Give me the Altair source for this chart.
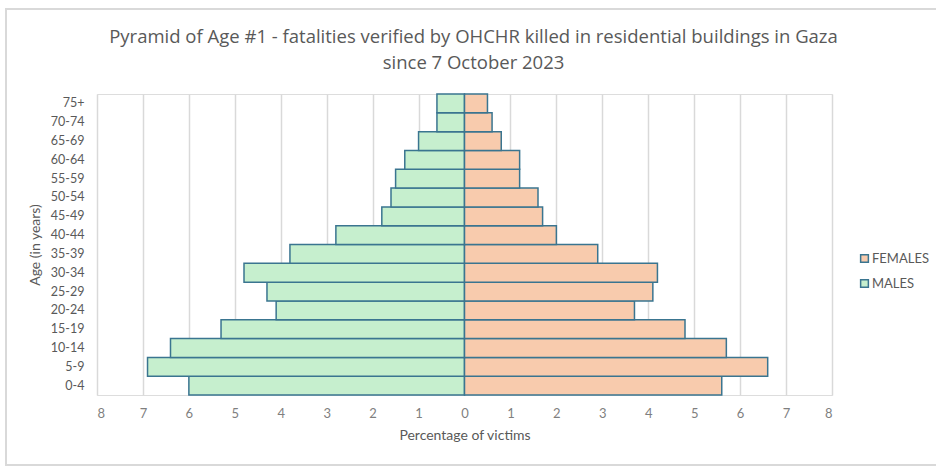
import altair as alt
import pandas as pd

ages = ["0-4", "5-9", "10-14", "15-19", "20-24", "25-29", "30-34", "35-39",
        "40-44", "45-49", "50-54", "55-59", "60-64", "65-69", "70-74", "75+"]
males = [6.0, 6.9, 6.4, 5.3, 4.1, 4.3, 4.8, 3.8, 2.8, 1.8, 1.6, 1.5, 1.3, 1.0, 0.6, 0.6]
females = [5.6, 6.6, 5.7, 4.8, 3.7, 4.1, 4.2, 2.9, 2.0, 1.7, 1.6, 1.2, 1.2, 0.8, 0.6, 0.5]
sexes = ["FEMALES", "MALES"]
colors = ["#f8cbad", "#c6efce"]
ticks = list(range(-8, 9))

rows = []
for a, m, f in zip(ages, males, females):
    rows.append({"age": a, "sex": "MALES", "value": -m})
    rows.append({"age": a, "sex": "FEMALES", "value": f})
df = pd.DataFrame(rows)

font = "Lato"
grey = "#595959"

bars = alt.Chart(df).mark_bar(stroke="#3a7590", strokeWidth=1.5).encode(
    x=alt.X("value:Q", scale=alt.Scale(domain=[-8, 8], nice=False),
            axis=alt.Axis(values=ticks, labelExpr="abs(datum.value)", title="Percentage of victims",
                          grid=True, gridColor="#d9d9d9", gridWidth=1.5, domain=False, ticks=False,
                          labelPadding=12, labelFontSize=13, labelColor="#7f7f7f", labelFont=font,
                          titleFont=font, titleFontSize=14, titleFontWeight="normal", titleColor=grey,
                          titlePadding=8)),
    y=alt.Y("age:N", sort=list(reversed(ages)),
            scale=alt.Scale(paddingInner=0, paddingOuter=0),
            axis=alt.Axis(title="Age (in years)", domain=False, ticks=False, grid=False,
                          labelPadding=13, labelFontSize=12.5, labelColor=grey, labelFont=font,
                          titleFont=font, titleFontSize=14, titleFontWeight="normal", titleColor=grey,
                          titlePadding=8)),
    color=alt.Color("sex:N", scale=alt.Scale(domain=sexes, range=colors),
                    legend=alt.Legend(title=None, orient="none", legendX=761, legendY=158,
                                      symbolType="square", symbolSize=60, symbolStrokeColor="#3a7590",
                                      symbolStrokeWidth=1.5, labelFont=font, labelFontSize=13,
                                      labelColor=grey, labelOffset=1, rowPadding=10)),
)

frame = alt.Chart(pd.DataFrame({"k": [0]})).mark_rect(
    fill=None, stroke="#d9d9d9", strokeWidth=2
).encode(x=alt.value(-91), x2=alt.value(845), y=alt.value(-85), y2=alt.value(371))

chart = alt.layer(frame, bars).properties(
    width=735, height=301,
    title=alt.TitleParams(
        ["Pyramid of Age #1 - fatalities verified by OHCHR killed in residential buildings in Gaza",
         "since 7 October 2023"],
        font="Open Sans", fontSize=18.5, fontWeight="normal", color=grey, anchor="middle",
        lineHeight=26, offset=-64, dx=9),
    autosize=alt.AutoSizeParams(type="none"),
    padding={"left": 97, "top": 94, "right": 104, "bottom": 72},
).configure_view(stroke=None).configure(background="white")

chart.save("out.html", embed_options={"renderer": "svg", "actions": False})
